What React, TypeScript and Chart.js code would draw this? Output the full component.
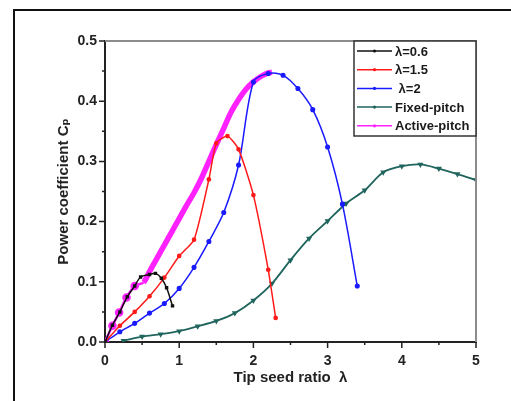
import React, { useEffect, useRef } from "react";
import { Chart, registerables } from "chart.js";

Chart.register(...registerables);

// ---- data ----
const lam06X = [0, 0.1, 0.2, 0.3, 0.4, 0.48, 0.6, 0.68, 0.76, 0.83, 0.91];
const lam06Y = [0, 0.028, 0.05, 0.075, 0.093, 0.108, 0.112, 0.114, 0.106, 0.09, 0.06];

const lam15X = [0, 0.2, 0.4, 0.6, 0.8, 1.0, 1.2, 1.4, 1.5, 1.65, 1.8, 2.0, 2.2, 2.3];
const lam15Y = [0, 0.027, 0.05, 0.076, 0.107, 0.143, 0.17, 0.27, 0.33, 0.342, 0.32, 0.244, 0.12, 0.04];

const lam2X = [0, 0.2, 0.4, 0.6, 0.8, 1.0, 1.2, 1.4, 1.6, 1.8, 2.0, 2.2, 2.4, 2.6, 2.8, 3.0, 3.2, 3.4];
const lam2Y = [0, 0.017, 0.031, 0.048, 0.064, 0.089, 0.124, 0.167, 0.215, 0.294, 0.432, 0.446, 0.443, 0.421, 0.386, 0.324, 0.229, 0.093];

const fixedX = [0.25, 0.5, 0.75, 1.0, 1.25, 1.5, 1.75, 2.0, 2.25, 2.5, 2.75, 3.0, 3.25, 3.5, 3.75, 4.0, 4.25, 4.5, 4.75, 5.0];
const fixedY = [0.002, 0.009, 0.013, 0.018, 0.026, 0.035, 0.048, 0.069, 0.097, 0.136, 0.172, 0.201, 0.23, 0.252, 0.282, 0.292, 0.295, 0.288, 0.279, 0.269];

const activeX = [0, 0.1, 0.19, 0.29, 0.4, 0.52, 0.6, 0.7, 0.8, 0.9, 1.0, 1.1, 1.2, 1.3, 1.4, 1.5, 1.6, 1.7, 1.8, 1.9, 2.0, 2.1, 2.2, 2.25];
const activeY = [0, 0.027, 0.049, 0.074, 0.093, 0.099, 0.117, 0.139, 0.161, 0.183, 0.205, 0.227, 0.248, 0.272, 0.3, 0.328, 0.355, 0.382, 0.403, 0.42, 0.432, 0.441, 0.447, 0.448];

const seriesLabels = ["λ=0.6", "λ=1.5", " λ=2", "Fixed-pitch", "Active-pitch"];
const xTicks = [0, 1, 2, 3, 4, 5];
const yTicks = [0, 0.1, 0.2, 0.3, 0.4, 0.5];

const FONT = '"Liberation Sans", Arial, "DejaVu Sans", sans-serif';
const TEAL = "#1f655d";

const pts = (xs: number[], ys: number[]) => xs.map((x, i) => ({ x, y: ys[i] }));

const framePlugin = {
  id: "frame",
  beforeDraw(chart: any) {
    const { ctx, width, height } = chart;
    ctx.save();
    ctx.fillStyle = "#fff";
    ctx.fillRect(0, 0, width, height);
    ctx.strokeStyle = "#111";
    ctx.lineWidth = 2;
    ctx.beginPath();
    ctx.moveTo(14, height);
    ctx.lineTo(14, 10);
    ctx.lineTo(width, 10);
    ctx.stroke();
    ctx.restore();
  },
};

const axesPlugin = {
  id: "axesExtra",
  afterDraw(chart: any) {
    const { ctx, chartArea, scales } = chart;
    const { left, right, top, bottom } = chartArea;
    ctx.save();
    ctx.strokeStyle = "#8c8c8c";
    ctx.lineWidth = 2;
    ctx.beginPath();
    ctx.moveTo(left, top);
    ctx.lineTo(right, top);
    ctx.lineTo(right, bottom);
    ctx.stroke();
    ctx.strokeStyle = "#222";
    ctx.lineWidth = 1.5;
    ctx.beginPath();
    yTicks.forEach((v, i) => {
      const py = scales.y.getPixelForValue(v);
      ctx.moveTo(left - 6, py);
      ctx.lineTo(left, py);
      if (i < yTicks.length - 1) {
        const m = scales.y.getPixelForValue((v + yTicks[i + 1]) / 2);
        ctx.moveTo(left - 3, m);
        ctx.lineTo(left, m);
      }
    });
    xTicks.forEach((v, i) => {
      const px = scales.x.getPixelForValue(v);
      ctx.moveTo(px, bottom);
      ctx.lineTo(px, bottom + 6);
      if (i < xTicks.length - 1) {
        const m = scales.x.getPixelForValue((v + xTicks[i + 1]) / 2);
        ctx.moveTo(m, bottom);
        ctx.lineTo(m, bottom + 3);
      }
    });
    ctx.stroke();
    ctx.restore();
  },
};

const legendPlugin = {
  id: "boxLegend",
  afterDraw(chart: any) {
    const { ctx, chartArea } = chart;
    const bx = 354;
    const by = chartArea.top;
    const bw = chartArea.right - bx;
    const bh = 95;
    ctx.save();
    ctx.fillStyle = "#fff";
    ctx.fillRect(bx, by, bw, bh);
    ctx.strokeStyle = "#333";
    ctx.lineWidth = 1.5;
    ctx.strokeRect(bx, by, bw, bh);
    chart.data.datasets.forEach((ds: any, i: number) => {
      const cy = by + 10 + i * 18.7;
      ctx.strokeStyle = ds.borderColor;
      ctx.lineWidth = 1.5;
      ctx.beginPath();
      ctx.moveTo(357, cy);
      ctx.lineTo(392, cy);
      ctx.stroke();
      ctx.fillStyle = ds.borderColor;
      ctx.beginPath();
      ctx.arc(374.5, cy, 1.6, 0, Math.PI * 2);
      ctx.fill();
      ctx.fillStyle = "#1a1a1a";
      ctx.font = `bold 13px ${FONT}`;
      ctx.textAlign = "left";
      ctx.textBaseline = "middle";
      ctx.fillText(ds.label, 395, cy + 1);
    });
    ctx.restore();
  },
};

export default function App() {
  const ref = useRef<HTMLCanvasElement | null>(null);
  useEffect(() => {
    if (!ref.current) return;
    const chart = new Chart(ref.current, {
      type: "line",
      data: {
        datasets: [
          {
            label: seriesLabels[0],
            data: pts(lam06X, lam06Y),
            borderColor: "#111",
            backgroundColor: "#111",
            borderWidth: 1.5,
            pointStyle: "rect",
            pointRadius: 1.4,
            tension: 0.3,
          },
          {
            label: seriesLabels[1],
            data: pts(lam15X, lam15Y),
            borderColor: "#ff1a1a",
            backgroundColor: "#ff1a1a",
            borderWidth: 1.5,
            pointStyle: "circle",
            pointRadius: 1.6,
            tension: 0.2,
          },
          {
            label: seriesLabels[2],
            data: pts(lam2X, lam2Y),
            borderColor: "#1a1aff",
            backgroundColor: "#1a1aff",
            borderWidth: 1.5,
            pointStyle: "circle",
            pointRadius: 1.8,
            tension: 0.3,
          },
          {
            label: seriesLabels[3],
            data: pts(fixedX, fixedY),
            borderColor: TEAL,
            backgroundColor: TEAL,
            borderWidth: 1.8,
            pointStyle: "triangle",
            rotation: 180,
            pointRadius: 1.7,
            tension: 0.3,
          },
          {
            label: seriesLabels[4],
            data: pts(activeX, activeY),
            borderColor: "#ff22ff",
            backgroundColor: "#ff22ff",
            borderWidth: 5,
            pointRadius: (c: any) => (c.parsed && c.parsed.x < 0.5 ? 1.8 : 0),
            tension: 0.3,
            segment: {
              borderWidth: (c: any) => (c.p0.parsed.x < 0.5 ? 2.5 : 5.5),
            },
          },
        ],
      },
      options: {
        responsive: false,
        animation: false,
        layout: { padding: { top: 41, right: 35, left: 0, bottom: 0 } },
        plugins: { legend: { display: false }, tooltip: { enabled: false } },
        scales: {
          x: {
            type: "linear",
            min: 0,
            max: 5,
            afterFit: (s: any) => {
              s.height = 59;
            },
            afterBuildTicks: (s: any) => {
              s.ticks = xTicks.map((v) => ({ value: v }));
            },
            ticks: {
              padding: 11,
              color: "#222",
              font: { size: 14, weight: "bold", family: FONT },
              callback: (v: any) => String(v),
              maxRotation: 0,
            },
            grid: { display: false, drawTicks: false },
            border: { display: true, width: 2, color: "#222" },
            title: {
              display: true,
              text: "Tip seed ratio  λ",
              color: "#222",
              font: { size: 15, weight: "bold", family: FONT },
              padding: { top: 0, bottom: 14 },
            },
          },
          y: {
            type: "linear",
            min: 0,
            max: 0.5,
            afterFit: (s: any) => {
              s.width = 105;
            },
            afterBuildTicks: (s: any) => {
              s.ticks = yTicks.map((v) => ({ value: v }));
            },
            ticks: {
              padding: 8,
              color: "#222",
              font: { size: 14, weight: "bold", family: FONT },
              callback: (v: any) => Number(v).toFixed(1),
            },
            grid: { display: false, drawTicks: false },
            border: { display: true, width: 2, color: "#222" },
            title: {
              display: true,
              text: "Power coefficient Cₚ",
              color: "#222",
              font: { size: 15, weight: "bold", family: FONT },
              padding: { top: 55, bottom: 0 },
            },
          },
        },
      },
      plugins: [framePlugin, axesPlugin, legendPlugin],
    } as any);
    return () => chart.destroy();
  }, []);
  return (
    <div style={{ position: "absolute", left: 0, top: 0, width: 511, height: 401 }}>
      <canvas ref={ref} width={511} height={401} />
    </div>
  );
}
